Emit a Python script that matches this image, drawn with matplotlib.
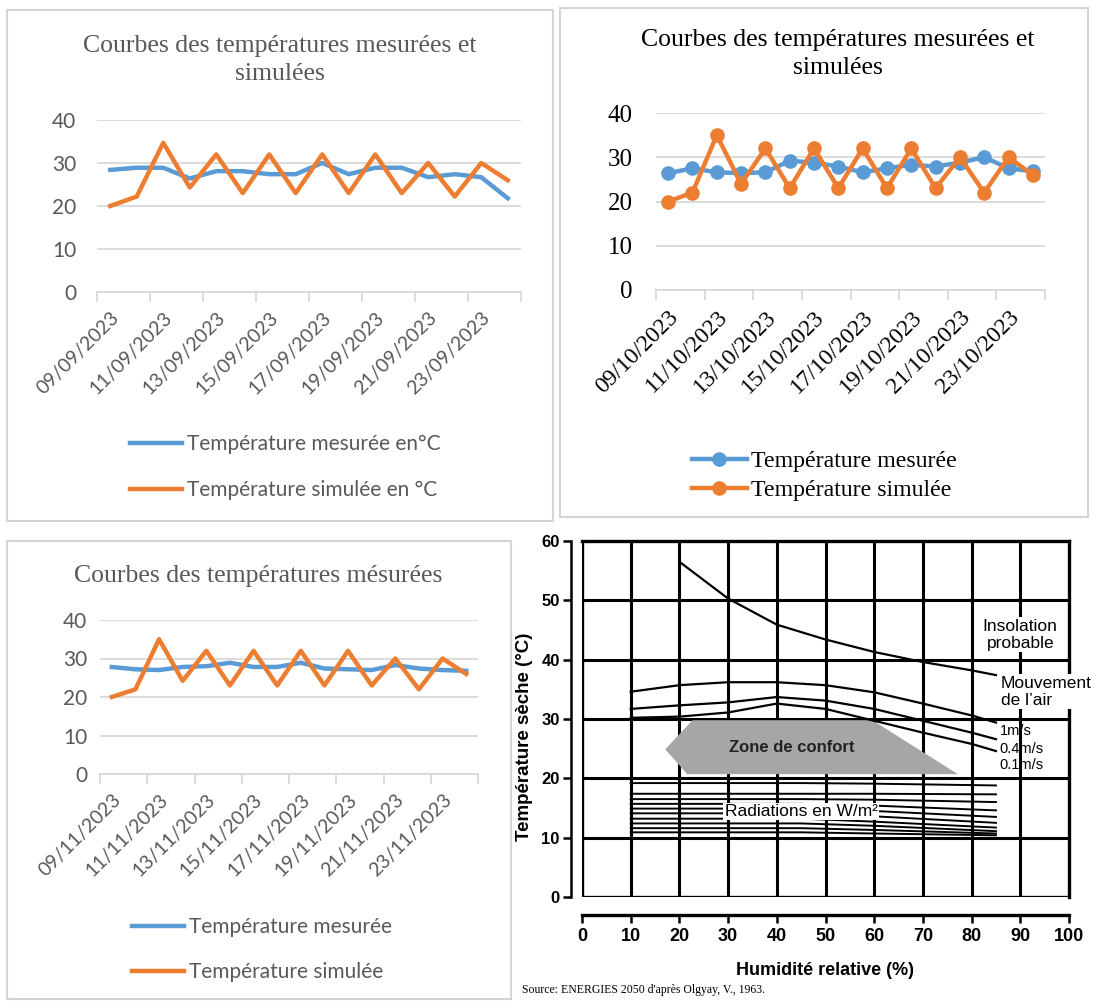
import numpy as np
import matplotlib
matplotlib.use("Agg")
from matplotlib import pyplot as plt
from matplotlib.patches import Rectangle, Polygon

# ---- data: temperature series (16 days each) ----
dates_sep = ["%02d/09/2023" % d for d in range(9, 25)]
dates_oct = ["%02d/10/2023" % d for d in range(9, 25)]
dates_nov = ["%02d/11/2023" % d for d in range(9, 25)]

sep_mesuree = [28.4, 28.9, 28.9, 26.4, 28.1, 28.1, 27.4, 27.4, 30.0, 27.4, 28.9, 28.9, 26.7, 27.4, 26.7, 21.8]
sep_simulee = [20.0, 22.2, 34.7, 24.3, 32.0, 23.0, 32.0, 23.0, 32.0, 23.0, 32.0, 23.0, 30.0, 22.2, 30.0, 26.0]

oct_mesuree = [26.4, 27.5, 26.6, 26.4, 26.6, 29.2, 28.8, 27.9, 26.6, 27.5, 28.3, 27.9, 28.8, 30.0, 27.5, 26.8]
oct_simulee = [20.0, 22.0, 35.0, 24.0, 32.0, 23.0, 32.0, 23.0, 32.0, 23.0, 32.0, 23.0, 30.0, 22.0, 30.0, 26.0]

nov_mesuree = [27.8, 27.2, 27.0, 27.8, 28.0, 28.9, 27.8, 27.8, 28.9, 27.4, 27.2, 27.0, 28.3, 27.4, 27.0, 26.8]
nov_simulee = [20.0, 22.0, 35.0, 24.2, 32.0, 23.0, 32.0, 23.0, 32.0, 23.0, 32.0, 23.0, 30.0, 22.0, 30.0, 26.0]

# ---- data: Olgyay bioclimatic chart ----
hum_top = [20, 30, 40, 50, 60, 70, 80, 85]
insolation = [56.5, 50.3, 45.9, 43.4, 41.3, 39.6, 38.2, 37.4]
hum_air = [10, 20, 30, 40, 50, 60, 70, 80, 85]
air_1 = [34.6, 35.7, 36.2, 36.2, 35.7, 34.5, 32.6, 30.6, 29.4]
air_04 = [31.7, 32.3, 32.8, 33.7, 33.1, 31.7, 29.7, 27.7, 26.6]
air_01 = [30.2, 30.4, 31.1, 32.6, 31.7, 29.7, 27.7, 25.8, 24.6]
confort_hum = [17.1, 22.7, 59.6, 77.2, 21.6]
confort_temp = [24.9, 29.8, 29.8, 20.7, 20.7]
hum_rad = [10, 45, 60, 85]
radiations = [
    [19.2, 19.2, 19.1, 18.8],
    [17.4, 17.4, 17.4, 17.3],
    [16.5, 16.5, 16.4, 16.0],
    [15.7, 15.7, 15.4, 14.6],
    [14.9, 14.9, 14.5, 13.5],
    [14.1, 14.1, 13.6, 12.5],
    [13.2, 13.2, 12.7, 11.7],
    [12.4, 12.4, 12.0, 11.1],
    [11.6, 11.6, 11.3, 10.7],
    [10.9, 10.9, 10.7, 10.4],
]

BLUE = "#5b9bd5"
ORANGE = "#ed7d31"
GRID = "#d9d9d9"
GREY_TXT = "#595959"
W, H = 1094, 1001


def rect(x0, y0, x1, y1):
    return [x0 / W, 1 - y1 / H, (x1 - x0) / W, (y1 - y0) / H]


fig = plt.figure(figsize=(W / 100, H / 100), dpi=100)

# panel frames
for x0, y0, x1, y1 in [(7, 10, 553, 521), (560, 8, 1088, 517), (7, 541, 511, 999)]:
    fig.patches.append(Rectangle((x0 / W, 1 - y1 / H), (x1 - x0) / W, (y1 - y0) / H,
                                 transform=fig.transFigure, fill=False,
                                 edgecolor="#d4d4d4", lw=1.5))


def temp_panel(box, labels, mes, sim, names, tick_font, ytick_size, ypad, txt_color,
               markers, leg_anchor, leg_size, leg_space, handle_len):
    ax = fig.add_axes(rect(*box))
    x = np.arange(len(mes))
    mk = dict(marker="o", markersize=9.5) if markers else {}
    ax.plot(x, mes, color=BLUE, lw=3.2, solid_joinstyle="round", label=names[0], **mk)
    ax.plot(x, sim, color=ORANGE, lw=3.2, solid_joinstyle="round", label=names[1], **mk)
    ax.set_xlim(-0.5, len(mes) - 0.5)
    ax.set_ylim(0, 40)
    ax.set_yticks([0, 10, 20, 30, 40])
    ax.yaxis.grid(True, color=GRID, lw=1.3)
    ax.set_axisbelow(True)
    for s in ["top", "right", "left"]:
        ax.spines[s].set_visible(False)
    ax.spines["bottom"].set_color(GRID)
    ax.spines["bottom"].set_linewidth(1.3)
    ax.set_xticks(x[::2])
    ax.set_xticklabels(labels[::2], rotation=45, ha="right", va="top",
                       rotation_mode="anchor", color=txt_color, **tick_font)
    ax.set_xticks(np.arange(-0.5, len(mes), 2), minor=True)
    ax.tick_params(axis="x", which="major", length=0, pad=12)
    ax.tick_params(axis="x", which="minor", length=7, color=GRID, width=1.3)
    ax.tick_params(axis="y", length=0, pad=ypad, labelcolor=txt_color)
    for t in ax.get_yticklabels():
        t.set(family=tick_font["family"], size=ytick_size)
    leg = ax.legend(loc="upper left", bbox_to_anchor=leg_anchor, bbox_transform=fig.transFigure,
                    frameon=False, handlelength=handle_len, handletextpad=0.2,
                    labelspacing=leg_space, borderaxespad=0,
                    prop={"family": tick_font["family"], "size": leg_size})
    for t in leg.get_texts():
        t.set_color(txt_color)
    return ax


sans = {"family": ["Lato", "DejaVu Sans"], "size": 14}
serif = {"family": ["Liberation Serif", "DejaVu Serif"], "size": 17}

# top-left
temp_panel((97, 120, 521, 292), dates_sep, sep_mesuree, sep_simulee,
           ["Température mesurée en°C", "Température simulée en °C"],
           sans, 15, 15, GREY_TXT, False, (122 / W, 1 - 426 / H), 15, 1.25, 2.5)
fig.text(280 / W, 1 - 60 / H, "Courbes des températures mesurées et\nsimulées", ha="center", va="center",
         family="Liberation Serif", size=18.5, color=GREY_TXT, linespacing=1.35)

# top-right
temp_panel((656, 113, 1045, 290), dates_oct, oct_mesuree, oct_simulee,
           ["Température mesurée", "Température simulée"],
           serif, 18, 17, "black", True, (682 / W, 1 - 441 / H), 17.2, 0.3, 2.3)
fig.text(838 / W, 1 - 54 / H, "Courbes des températures mesurées et\nsimulées", ha="center", va="center",
         family="Liberation Serif", size=18.5, color="black", linespacing=1.3)

# bottom-left
temp_panel((100, 620, 478, 774), dates_nov, nov_mesuree, nov_simulee,
           ["Température mesurée", "Température simulée"],
           sans, 15, 9, GREY_TXT, False, (124 / W, 1 - 909 / H), 15, 1.2, 2.5)
fig.text(258 / W, 1 - 576 / H, "Courbes des températures mésurées", ha="center", va="center",
         family="Liberation Serif", size=18.5, color=GREY_TXT)

# bottom-right: Olgyay chart
narrow = ["Liberation Sans Narrow", "Liberation Sans", "DejaVu Sans"]
ax4 = fig.add_axes(rect(582, 541, 1069, 897))
ax4.set_xlim(0, 100)
ax4.set_ylim(0, 60)
for v in range(10, 100, 10):
    ax4.axvline(v, color="black", lw=2.2, zorder=1)
for h in range(10, 60, 10):
    ax4.axhline(h, color="black", lw=2.2, zorder=1)
ax4.axvline(0, color="black", lw=2.4, zorder=1)
ax4.axhline(0, color="black", lw=2.4, zorder=1)
for s in ["top", "right"]:
    ax4.spines[s].set_linewidth(2.4)
ax4.spines["left"].set_position(("outward", 8))
ax4.spines["bottom"].set_position(("outward", 13))
ax4.spines["left"].set_linewidth(1.8)
ax4.spines["bottom"].set_linewidth(2.4)
ax4.set_xticks(range(0, 101, 10))
ax4.set_yticks(range(0, 61, 10))
ax4.tick_params(axis="x", length=6, width=1.8, labelsize=13)
ax4.tick_params(axis="y", length=6, width=1.8, labelsize=12, pad=2)
for t in ax4.get_xticklabels() + ax4.get_yticklabels():
    t.set_family(narrow)
    t.set_fontweight("bold")

ax4.add_patch(Polygon(np.column_stack([confort_hum, confort_temp]), closed=True,
                      facecolor="#a6a6a6", edgecolor="none", zorder=2))
ax4.text(43, 25.2, "Zone de confort", ha="center", va="center", family=narrow,
         fontweight="bold", size=12, zorder=3, color="#222222")

ax4.plot(hum_top, insolation, color="black", lw=1.6, zorder=3)
for serie in [air_1, air_04, air_01]:
    ax4.plot(hum_air, serie, color="black", lw=1.6, zorder=3)
for serie in radiations:
    ax4.plot(hum_rad, serie, color="black", lw=1.4, zorder=3)

ax4.text(45, 14.4, "Radiations en W/m²", ha="center", va="center", family=narrow,
         size=12.5, zorder=4, bbox=dict(facecolor="white", edgecolor="none", pad=1))
ax4.text(90, 44.2, "Insolation\nprobable", ha="center", va="center", family=narrow,
         size=12.5, zorder=4, linespacing=1.15,
         bbox=dict(facecolor="white", edgecolor="none", pad=1))
ax4.text(86, 34.6, "Mouvement\nde l’air", ha="left", va="center", family=narrow,
         size=12.5, zorder=4, linespacing=1.15, clip_on=False,
         bbox=dict(facecolor="white", edgecolor="none", pad=1))
for yy, lab in [(28.0, "1m/s"), (25.0, "0.4m/s"), (22.2, "0.1m/s")]:
    ax4.text(85.8, yy, lab, ha="left", va="center", family=narrow, size=10.5, zorder=4)

ax4.set_xlabel("Humidité relative (%)", family=narrow, fontweight="bold", size=13, labelpad=12)
ax4.set_ylabel("Température sèche (°C)", family=narrow, fontweight="bold", size=13.5)
ax4.yaxis.set_label_coords(-0.1, 0.45)
fig.text(522 / W, 1 - 990 / H, "Source: ENERGIES 2050 d'après Olgyay, V., 1963.", ha="left", va="center",
         family="Liberation Serif", size=8.5)

fig.savefig("out.png", dpi=100)
